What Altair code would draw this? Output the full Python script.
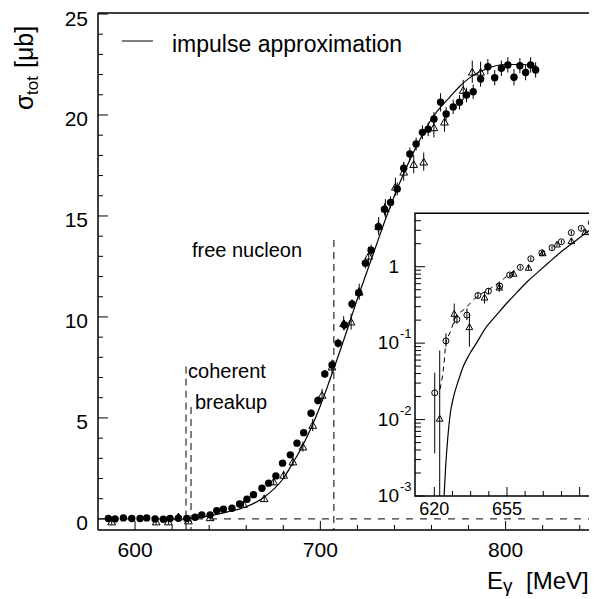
import altair as alt
import pandas as pd

FONT = "Liberation Sans"
W, H = 491, 517

# ---------------- main panel data ----------------
curve_E = [627, 630, 640, 650, 660, 670, 680, 685, 690, 695, 700, 705, 710, 715, 720, 725,
           730, 735, 740, 745, 750, 755, 760, 765, 770, 775, 780, 790, 800, 810, 817]
curve_sigma = [0.0, 0.02, 0.15, 0.35, 0.6, 1.1, 2.0, 2.75, 3.55, 4.5, 5.6, 6.85, 8.15, 9.5, 10.9, 12.2,
               13.5, 14.8, 16.0, 17.1, 18.1, 19.0, 19.8, 20.4, 20.9, 21.4, 21.8, 22.3, 22.5, 22.5, 22.4]

circle_E = [585.6, 589.2, 593.7, 598.2, 602.7, 606.3, 610.8, 615.3, 618.9, 623.4, 627.9,
            632.4, 636.0, 640.5, 644.1, 647.7, 652.3, 656.4, 660.4, 663.9, 668.5, 672.1, 676.0,
            679.6, 683.8, 687.4, 691.0, 695.0, 698.7,
            702.4, 706.3, 709.6, 713.0, 717.1, 720.7, 724.3, 727.4,
            731.3, 734.6, 737.9, 741.5, 745.0, 748.3, 751.7, 755.1, 758.2, 761.3, 764.9, 767.9,
            771.7, 775.1, 778.9, 782.5, 786.5, 790.4, 794.1, 797.7, 801.2, 804.5, 807.7, 810.8,
            813.5, 816.2]
circle_sigma = [0.02, 0.0, 0.05, 0.02, 0.02, 0.05, 0.0, -0.02, 0.02, 0.03, 0.02,
                0.08, 0.2, 0.2, 0.41, 0.48, 0.53, 0.74, 0.97, 1.2, 1.52, 1.77, 2.13,
                2.76, 3.17, 3.75, 4.27, 5.23, 5.86,
                7.18, 7.62, 8.7, 9.6, 10.64, 11.2, 12.66, 13.3,
                14.47, 15.33, 15.67, 16.34, 17.36, 18.07, 18.56, 19.14, 19.29, 19.8, 20.63, 20.05,
                20.4, 20.63, 20.99, 21.15, 21.78, 22.39, 21.85, 22.31, 22.48, 21.87, 22.44, 22.1,
                22.48, 22.23]
circle_err = [0.08, 0.08, 0.08, 0.08, 0.08, 0.08, 0.08, 0.08, 0.08, 0.08, 0.08,
              0.08, 0.08, 0.08, 0.1, 0.1, 0.1, 0.1, 0.12, 0.12, 0.12, 0.12, 0.14,
              0.14, 0.15, 0.15, 0.16, 0.18, 0.2,
              0.2, 0.22, 0.22, 0.24, 0.24, 0.26, 0.26, 0.28,
              0.3, 0.3, 0.3, 0.32, 0.32, 0.32, 0.32, 0.34, 0.34, 0.34, 0.45, 0.34,
              0.36, 0.36, 0.36, 0.36, 0.38, 0.38, 0.38, 0.38, 0.38, 0.4, 0.38, 0.38,
              0.38, 0.38]

tri_E = [587.4, 611.4, 618.0, 623.4, 628.8, 640.5, 658.5, 669.7, 674.8, 680.2, 685.2, 690.6,
         695.9, 700.9, 706.3, 712.6, 716.6, 721.0, 726.1, 731.5, 735.1, 740.5, 745.0, 750.4,
         755.8, 761.3, 767.0, 777.1, 782.0, 786.5]
tri_sigma = [-0.13, -0.13, -0.13, 0.12, -0.08, 0.08, 0.74, 1.02, 1.85, 2.18, 2.84, 3.58,
             4.65, 6.14, 7.54, 9.69, 9.77, 11.25, 13.03, 14.5, 15.38, 16.45, 17.19, 17.57,
             17.69, 19.39, 19.67, 21.24, 22.14, 22.14]
tri_err = [0.15, 0.15, 0.15, 0.15, 0.12, 0.12, 0.15, 0.15, 0.18, 0.2, 0.22, 0.25,
           0.3, 0.3, 0.35, 0.35, 0.4, 0.4, 0.45, 0.45, 0.45, 0.45, 0.45, 0.45,
           0.45, 0.5, 0.5, 0.5, 0.55, 0.5]

threshold_E = [627.5, 630.2, 707.3]
threshold_top = [7.54, 5.54, 13.81]

note_text = ["free nucleon", "coherent", "breakup"]
note_E = [630.7, 628.6, 632.3]
note_sigma = [12.97, 6.98, 5.42]

x_major = [600, 700, 800]
x_minor = [620, 640, 660, 680, 720, 740, 760, 780, 820, 840]
y_major = [0, 5, 10, 15, 20, 25]
y_minor = [1, 2, 3, 4, 6, 7, 8, 9, 11, 12, 13, 14, 16, 17, 18, 19, 21, 22, 23, 24]

# ---------------- inset data ----------------
inset_curve_E = [624.7, 625.5, 626.4, 627.7, 629.3, 631.7, 634, 637, 640, 645, 650, 655, 660,
                 665, 670, 675, 680, 685, 690, 695, 700]
inset_curve_val = [0.001, 0.0025, 0.0054, 0.012, 0.020, 0.033, 0.05, 0.072, 0.097, 0.162, 0.234,
                   0.335, 0.468, 0.646, 0.855, 1.127, 1.48, 1.89, 2.4, 3.02, 3.78]

inset_dash_E = [622.8, 624.5, 625.6, 627.7, 630.1, 634.9, 640.6, 647.0, 651.8, 656.6, 660.0]
inset_dash_val = [0.025, 0.049, 0.10, 0.14, 0.21, 0.285, 0.405, 0.52, 0.64, 0.82, 0.92]

ic_E = [620.2, 625.6, 630.9, 635.7, 641.0, 646.1, 651.5, 656.3, 661.4, 666.5, 671.8, 676.7,
        681.2, 686.0, 690.8, 695.6]
ic_val = [0.0224, 0.107, 0.205, 0.233, 0.42, 0.48, 0.56, 0.78, 0.98, 1.27, 1.52, 1.77,
          2.12, 2.79, 3.18, 3.77]
ic_lo = [0.0036, 0.09, 0.18, 0.20, 0.38, 0.44, 0.50, 0.73, 0.92, 1.19, 1.43, 1.67,
         2.0, 2.63, 3.0, 3.55]
ic_hi = [0.041, 0.134, 0.23, 0.285, 0.46, 0.52, 0.62, 0.83, 1.04, 1.35, 1.61, 1.87,
         2.24, 2.95, 3.36, 3.99]

it_E = [622.6, 629.6, 636.9, 644.2, 651.3, 658.2, 665.4, 672.2, 679.1, 686.0, 692.7]
it_val = [0.0104, 0.245, 0.164, 0.40, 0.54, 0.82, 0.98, 1.52, 1.98, 2.19, 2.87]
it_lo = [0.0005, 0.18, 0.09, 0.33, 0.47, 0.76, 0.91, 1.42, 1.86, 2.06, 2.7]
it_hi = [0.08, 0.33, 0.245, 0.47, 0.61, 0.88, 1.05, 1.62, 2.1, 2.32, 3.05]

ix_major = [620, 655, 690]
ix_minor = [628.75, 637.5, 646.25, 663.75, 672.5, 681.25, 698.75]
iy_major = [0.001, 0.01, 0.1, 1]
iy_minor = [0.002, 0.003, 0.004, 0.005, 0.006, 0.007, 0.008, 0.009,
            0.02, 0.03, 0.04, 0.05, 0.06, 0.07, 0.08, 0.09,
            0.2, 0.3, 0.4, 0.5, 0.6, 0.7, 0.8, 0.9, 2, 3, 4]
iy_label_val = [1, 0.1, 0.01, 0.001]
iy_label_base = ["1", "10", "10", "10"]
iy_label_exp = ["", "-1", "-2", "-3"]
ix_label_val = [620, 655]

# ---------------- scales ----------------
xs = alt.Scale(domain=[580, 845], nice=False, zero=False)
ys = alt.Scale(domain=[-0.55, 25.05], nice=False, zero=False)

IX0, IX1 = 317, 502.4
IY0, IY1 = 483, 200.3
xi = alt.Scale(domain=[610.7, 700], range=[IX0, IX1], nice=False, zero=False)
yi = alt.Scale(type="log", domain=[0.001, 5], range=[IY0, IY1], nice=False, clamp=True)


def MX(f="E"):
    return alt.X(f"{f}:Q", scale=xs, axis=None)


def MY(f):
    return alt.Y(f"{f}:Q", scale=ys, axis=None)


def IXe(f="E"):
    return alt.X(f"{f}:Q", scale=xi, axis=None)


def IYe(f):
    return alt.Y(f"{f}:Q", scale=yi, axis=None)


one = pd.DataFrame({"a": [0]})


def rule(**kw):
    return alt.Chart(one).mark_rule(color="black", **kw)


# ---------------- main layers ----------------
curve_df = pd.DataFrame({"E": curve_E, "s": curve_sigma})
curve = alt.Chart(curve_df).mark_line(color="black", strokeWidth=1.2, interpolate="monotone").encode(
    x=MX(), y=MY("s"))

zero_line = alt.Chart(pd.DataFrame({"s": [0]})).mark_rule(
    color="black", strokeWidth=1, strokeDash=[7, 7]).encode(
    y=MY("s"), x=alt.value(0), x2=alt.value(W))

thr_df = pd.DataFrame({"E": threshold_E, "top": threshold_top})
thr = alt.Chart(thr_df).mark_rule(color="black", strokeWidth=1, strokeDash=[7, 5]).encode(
    x=MX(), y=MY("top"), y2=alt.value(H))

cdf = pd.DataFrame({"E": circle_E, "s": circle_sigma, "err": circle_err})
cdf["lo"] = cdf["s"] - cdf["err"]
cdf["hi"] = cdf["s"] + cdf["err"]
tdf = pd.DataFrame({"E": tri_E, "s": tri_sigma, "err": tri_err})
tdf["lo"] = tdf["s"] - tdf["err"]
tdf["hi"] = tdf["s"] + tdf["err"]

c_err = alt.Chart(cdf).mark_rule(color="black", strokeWidth=1).encode(
    x=MX(), y=MY("lo"), y2=alt.Y2("hi:Q"))
t_err = alt.Chart(tdf).mark_rule(color="black", strokeWidth=1).encode(
    x=MX(), y=MY("lo"), y2=alt.Y2("hi:Q"))
c_pts = alt.Chart(cdf).mark_circle(size=55, color="black", opacity=1).encode(x=MX(), y=MY("s"))
t_pts = alt.Chart(tdf).mark_point(shape="triangle-up", size=60, filled=False, color="black",
                                  strokeWidth=1, opacity=1).encode(x=MX(), y=MY("s"))

xmaj = alt.Chart(pd.DataFrame({"v": x_major})).mark_rule(color="black", strokeWidth=1).encode(
    x=MX("v"), y=alt.value(H), y2=alt.value(H - 9))
xmin = alt.Chart(pd.DataFrame({"v": x_minor})).mark_rule(color="black", strokeWidth=1).encode(
    x=MX("v"), y=alt.value(H), y2=alt.value(H - 5))
ymaj = alt.Chart(pd.DataFrame({"v": y_major})).mark_rule(color="black", strokeWidth=1).encode(
    y=MY("v"), x=alt.value(0), x2=alt.value(10))
ymin = alt.Chart(pd.DataFrame({"v": y_minor})).mark_rule(color="black", strokeWidth=1).encode(
    y=MY("v"), x=alt.value(0), x2=alt.value(5))

xlab = alt.Chart(pd.DataFrame({"v": x_major, "t": [str(v) for v in x_major]})).mark_text(
    font=FONT, fontSize=21, align="center", baseline="top", color="black").encode(
    x=MX("v"), y=alt.value(H + 10), text="t:N")
ylab = alt.Chart(pd.DataFrame({"v": y_major, "t": [str(v) for v in y_major]})).mark_text(
    font=FONT, fontSize=21, align="right", baseline="alphabetic", color="black", dy=11.5).encode(
    y=MY("v"), x=alt.value(-10), text="t:N")

frame_top = rule(strokeWidth=1.5).encode(x=alt.value(0), x2=alt.value(W + 20), y=alt.value(0))
frame_left = rule(strokeWidth=1.5).encode(x=alt.value(0), y=alt.value(0), y2=alt.value(H))
frame_bottom = rule(strokeWidth=1.5).encode(x=alt.value(0), x2=alt.value(W + 20), y=alt.value(H))

notes = alt.Chart(pd.DataFrame({"E": note_E, "s": note_sigma, "t": note_text})).mark_text(
    font=FONT, fontSize=20, align="left", baseline="alphabetic", color="black").encode(
    x=MX(), y=MY("s"), text="t:N")

leg_line = rule(strokeWidth=1).encode(x=alt.value(24), x2=alt.value(55), y=alt.value(28))
leg_text = alt.Chart(one).mark_text(font=FONT, fontSize=23, align="left", baseline="alphabetic",
                                    color="black", text="impulse approximation").encode(
    x=alt.value(74), y=alt.value(39))


def label(txt, x, y, size, angle=0, align="left"):
    return alt.Chart(one).mark_text(font=FONT, fontSize=size, align=align, baseline="alphabetic",
                                    color="black", text=txt, angle=angle).encode(
        x=alt.value(x), y=alt.value(y))


ytitle = [label("σ", -65, 97, 25, 270), label("tot", -60, 82, 17, 270),
          label("[μb]", -65, 55, 25, 270)]
xtitle = [label("E", 389, 576, 24), label("γ", 405, 579, 19), label("[MeV]", 428, 576, 24)]

main = alt.layer(curve, zero_line, thr, c_err, t_err, c_pts, t_pts, xmaj, xmin, ymaj, ymin,
                 frame_top, frame_left, frame_bottom, xlab, ylab,
                 notes, leg_line, leg_text, *ytitle, *xtitle)

# ---------------- inset layers ----------------
bg = alt.Chart(one).mark_rect(fill="white", stroke="black", strokeWidth=1.5).encode(
    x=alt.value(IX0), x2=alt.value(IX0 + 300), y=alt.value(IY1), y2=alt.value(IY0))

icurve = alt.Chart(pd.DataFrame({"E": inset_curve_E, "v": inset_curve_val})).mark_line(
    color="black", strokeWidth=1.2, interpolate="monotone").encode(x=IXe(), y=IYe("v"))
idash = alt.Chart(pd.DataFrame({"E": inset_dash_E, "v": inset_dash_val})).mark_line(
    color="black", strokeWidth=1, strokeDash=[5, 4], interpolate="monotone").encode(x=IXe(), y=IYe("v"))

icdf = pd.DataFrame({"E": ic_E, "v": ic_val, "lo": ic_lo, "hi": ic_hi})
itdf = pd.DataFrame({"E": it_E, "v": it_val, "lo": it_lo, "hi": it_hi})
ic_err = alt.Chart(icdf).mark_rule(color="black", strokeWidth=1).encode(
    x=IXe(), y=IYe("lo"), y2=alt.Y2("hi:Q"))
it_err = alt.Chart(itdf).mark_rule(color="black", strokeWidth=1).encode(
    x=IXe(), y=IYe("lo"), y2=alt.Y2("hi:Q"))
ic_pts = alt.Chart(icdf).mark_point(shape="circle", size=36, filled=False, color="black",
                                    strokeWidth=1, opacity=1).encode(x=IXe(), y=IYe("v"))
it_pts = alt.Chart(itdf).mark_point(shape="triangle-up", size=45, filled=False, color="black",
                                    strokeWidth=1, opacity=1).encode(x=IXe(), y=IYe("v"))

ixmaj = alt.Chart(pd.DataFrame({"v": ix_major})).mark_rule(color="black", strokeWidth=1).encode(
    x=IXe("v"), y=alt.value(IY0), y2=alt.value(IY0 - 9))
ixmin = alt.Chart(pd.DataFrame({"v": ix_minor})).mark_rule(color="black", strokeWidth=1).encode(
    x=IXe("v"), y=alt.value(IY0), y2=alt.value(IY0 - 5))
iymaj = alt.Chart(pd.DataFrame({"v": iy_major})).mark_rule(color="black", strokeWidth=1).encode(
    y=IYe("v"), x=alt.value(IX0), x2=alt.value(IX0 + 10))
iymin = alt.Chart(pd.DataFrame({"v": iy_minor})).mark_rule(color="black", strokeWidth=1).encode(
    y=IYe("v"), x=alt.value(IX0), x2=alt.value(IX0 + 6))

iyl_df = pd.DataFrame({"v": iy_label_val, "b": iy_label_base, "e": iy_label_exp})
iy_base = alt.Chart(iyl_df).mark_text(font=FONT, fontSize=19, align="right", baseline="middle",
                                      color="black").encode(
    x=alt.value(IX0 - 16), y=IYe("v"), text="b:N")
iy_exp = alt.Chart(iyl_df).mark_text(font=FONT, fontSize=13, align="left", baseline="middle",
                                     color="black", dy=-9).encode(
    x=alt.value(IX0 - 15), y=IYe("v"), text="e:N")
ix_lab = alt.Chart(pd.DataFrame({"v": ix_label_val, "t": [str(v) for v in ix_label_val]})).mark_text(
    font=FONT, fontSize=18, align="center", baseline="alphabetic", color="black").encode(
    x=IXe("v"), y=alt.value(IY0 + 19), text="t:N")

inset = alt.layer(bg, icurve, idash, ic_err, it_err, ic_pts, it_pts, ixmaj, ixmin, iymaj, iymin,
                  iy_base, iy_exp, ix_lab)

chart = alt.layer(main, inset).resolve_scale(x="independent", y="independent").properties(
    width=W, height=H,
    padding={"left": 90, "top": 5, "right": 0, "bottom": 69},
    autosize=alt.AutoSizeParams(type="none"),
    background="white",
).configure_view(stroke=None)

chart.save("out.html", embed_options={"renderer": "svg", "actions": False})
